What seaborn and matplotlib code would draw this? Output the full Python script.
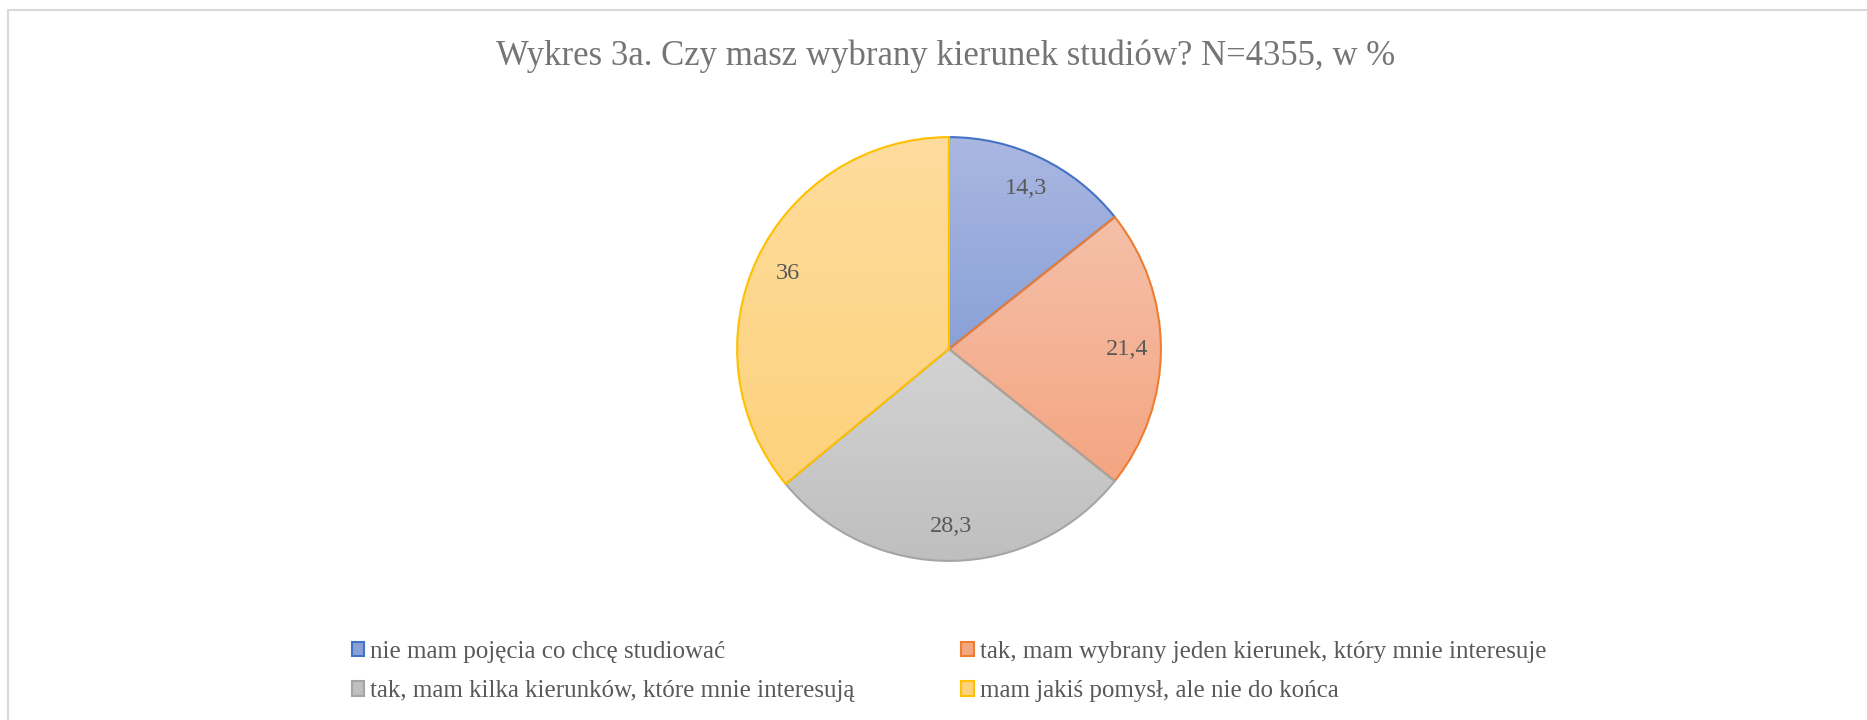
import matplotlib.pyplot as plt
import matplotlib.patches as mpatches
import numpy as np
import seaborn as sns
from matplotlib.colors import LinearSegmentedColormap

# Data
labels = [
    "nie mam pojęcia co chcę studiować",
    "tak, mam wybrany jeden kierunek, który mnie interesuje",
    "tak, mam kilka kierunków, które mnie interesują",
    "mam jakiś pomysł, ale nie do końca",
]
values = [14.3, 21.4, 28.3, 36]
value_labels = ["14,3", "21,4", "28,3", "36"]

# Excel-like colours: edge, gradient top, gradient bottom
edge_colors = ["#4472C4", "#ED7D31", "#A5A5A5", "#FFC000"]
top_colors = ["#AAB7E1", "#F5C0A8", "#D3D3D3", "#FEDC9D"]
bottom_colors = ["#8AA1D8", "#F4A582", "#BFBFBF", "#FDD27C"]

sns.set_theme(style="white")
plt.rcParams["font.family"] = ["Liberation Serif", "DejaVu Serif"]

W, H = 1867, 720
fig = plt.figure(figsize=(W / 100, H / 100), dpi=100)

# chart frame
fig.patches.append(
    mpatches.Rectangle(
        (7.5 / W, -0.1), 2, 1 - 10 / H + 0.1,
        transform=fig.transFigure, fill=False,
        edgecolor="#D9D9D9", linewidth=1.5,
    )
)

cx, cy, r = 949, H - 349, 214
ax = fig.add_axes([(cx - r) / W, (cy - r) / H, 2 * r / W, 2 * r / H])

wedges, texts = ax.pie(
    values,
    labels=value_labels,
    startangle=90,
    counterclock=False,
    labeldistance=0.84,
    colors=bottom_colors,
    wedgeprops=dict(edgecolor="none"),
    textprops=dict(color="#595959", fontsize=17.5),
)
for t in texts:
    t.set_ha("center")
    t.set_va("center")
    t.set_zorder(5)

# vertical gradient inside each wedge
for w, top, bot, ec in zip(wedges, top_colors, bottom_colors, edge_colors):
    verts = w.get_path().vertices
    x0, x1 = verts[:, 0].min(), verts[:, 0].max()
    y0, y1 = verts[:, 1].min(), verts[:, 1].max()
    cmap = LinearSegmentedColormap.from_list("g", [bot, top])
    grad = np.linspace(0, 1, 256).reshape(-1, 1)
    im = ax.imshow(grad, cmap=cmap, origin="lower", aspect="auto",
                   extent=(x0, x1, y0, y1), zorder=1)
    im.set_clip_path(w)
    w.set_facecolor("none")
    w.set_edgecolor(ec)
    w.set_linewidth(1.5)
    w.set_zorder(2)

ax.set_xlim(-1.01, 1.01)
ax.set_ylim(-1.01, 1.01)
ax.set_aspect("equal")
ax.axis("off")

fig.text(946 / W, 1 - 56 / H, "Wykres 3a. Czy masz wybrany kierunek studiów? N=4355, w %",
         ha="center", va="center", fontsize=25, color="#757575")

# legend, row-major order
handles = [
    mpatches.Patch(facecolor=c, edgecolor=e, linewidth=1.5)
    for c, e in zip(bottom_colors, edge_colors)
]
order = [0, 2, 1, 3]
fig.legend(
    [handles[i] for i in order],
    [labels[i] for i in order],
    ncol=2,
    loc="center left",
    bbox_to_anchor=(329 / W, 1 - 671.5 / H),
    frameon=False,
    fontsize=18,
    labelcolor="#595959",
    handlelength=0.5,
    handleheight=0.5,
    handletextpad=0.25,
    columnspacing=4.25,
    labelspacing=0.7,
)

fig.savefig("out.png", dpi=100, facecolor="white")
